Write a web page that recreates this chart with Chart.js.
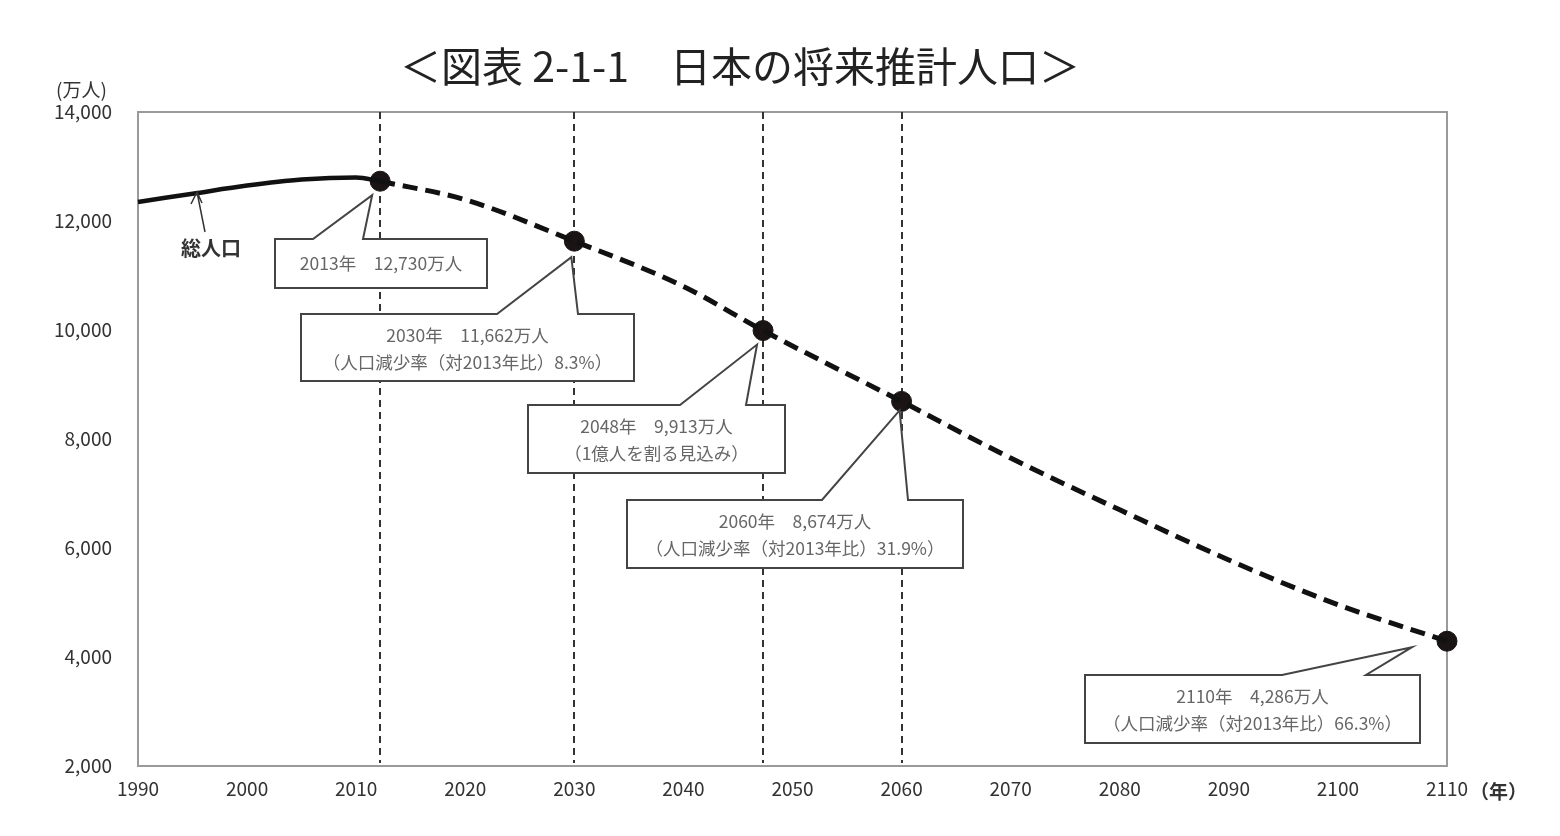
<!DOCTYPE html>
<html>
<head>
<meta charset="utf-8">
<script src="https://cdn.jsdelivr.net/npm/chart.js@4"></script>
<style>
  html, body { margin: 0; padding: 0; background: #fff; }
  #wrap { width: 1560px; height: 836px; position: relative; }
</style>
</head>
<body>
<div id="wrap"><canvas id="pop-chart"></canvas></div>
<script>
// historical total population (solid line)
const histYears = [1990, 1995, 2000, 2005, 2010, 2012.2];
const histValues = [12350, 12500, 12650, 12760, 12800, 12730];

// projection (dashed line)
const projYears = [2012.2, 2020, 2030, 2040, 2047.3, 2060, 2070, 2080, 2090, 2100, 2110];
const projValues = [12730, 12390, 11630, 10800, 9990, 8690, 7650, 6700, 5780, 4960, 4290];

// highlighted points
const markYears = [2012.2, 2030, 2047.3, 2060, 2110];
const markValues = [12730, 11630, 9990, 8690, 4290];

const yTicks = [2000, 4000, 6000, 8000, 10000, 12000, 14000];
const xTicks = [1990, 2000, 2010, 2020, 2030, 2040, 2050, 2060, 2070, 2080, 2090, 2100, 2110];

const calloutText = [
  ["2013年　12,730万人"],
  ["2030年　11,662万人", "（人口減少率（対2013年比）8.3%）"],
  ["2048年　9,913万人", "（1億人を割る見込み）"],
  ["2060年　8,674万人", "（人口減少率（対2013年比）31.9%）"],
  ["2110年　4,286万人", "（人口減少率（対2013年比）66.3%）"]
];

const FONT = '"Noto Sans CJK JP", "Noto Sans", sans-serif';

// box rect + tail base (pixels), tip goes toward the marker
const boxes = [
  { x: 275, y: 239, w: 212, h: 49, t1: 313, t2: 363, dx: -8, dy: 14 },
  { x: 301, y: 314, w: 333, h: 67, t1: 497, t2: 578, dx: -3, dy: 16 },
  { x: 528, y: 405, w: 257, h: 68, t1: 680, t2: 746, dx: -6, dy: 14 },
  { x: 627, y: 500, w: 336, h: 68, t1: 822, t2: 908, dx: -2, dy: 9 },
  { x: 1085, y: 675, w: 335, h: 68, t1: 1282, t2: 1366, dx: -35, dy: 6 }
];

const decor = {
  id: 'decor',
  beforeDatasetsDraw(chart) {
    const { ctx, chartArea: a, scales: { x } } = chart;
    ctx.save();
    // frame top/right
    ctx.strokeStyle = '#9a9a9a';
    ctx.lineWidth = 2;
    ctx.beginPath();
    ctx.moveTo(a.left, a.top); ctx.lineTo(a.right, a.top); ctx.lineTo(a.right, a.bottom);
    ctx.stroke();
    // vertical dashed guides
    ctx.strokeStyle = '#333';
    ctx.lineWidth = 2;
    ctx.setLineDash([7, 5]);
    markYears.slice(0, 4).forEach(yr => {
      const px = Math.round(x.getPixelForValue(yr));
      ctx.beginPath();
      ctx.moveTo(px, a.top);
      ctx.lineTo(px, a.bottom - 3);
      ctx.stroke();
    });
    ctx.setLineDash([]);
    ctx.restore();
  },
  afterDatasetsDraw(chart) {
    const { ctx, scales: { x, y } } = chart;
    ctx.save();
    // callouts
    boxes.forEach((b, i) => {
      const tx = x.getPixelForValue(markYears[i]) + b.dx;
      const ty = y.getPixelForValue(markValues[i]) + b.dy;
      ctx.fillStyle = '#fff';
      ctx.strokeStyle = '#444';
      ctx.lineWidth = 2;
      ctx.beginPath();
      ctx.moveTo(b.x, b.y);
      ctx.lineTo(b.t1, b.y);
      ctx.lineTo(tx, ty);
      ctx.lineTo(b.t2, b.y);
      ctx.lineTo(b.x + b.w, b.y);
      ctx.lineTo(b.x + b.w, b.y + b.h);
      ctx.lineTo(b.x, b.y + b.h);
      ctx.closePath();
      ctx.fill();
      ctx.stroke();
      ctx.fillStyle = '#666';
      ctx.font = '17.5px ' + FONT;
      ctx.textAlign = 'center';
      ctx.textBaseline = 'middle';
      const lines = calloutText[i];
      const cx = b.x + b.w / 2;
      if (lines.length === 1) {
        ctx.fillText(lines[0], cx, b.y + b.h / 2);
      } else {
        ctx.fillText(lines[0], cx, b.y + 21);
        ctx.fillText(lines[1], cx, b.y + 48);
      }
    });

    // 総人口 label with arrow
    ctx.fillStyle = '#333';
    ctx.font = 'bold 20px ' + FONT;
    ctx.textAlign = 'center';
    ctx.textBaseline = 'middle';
    ctx.fillText('総人口', 211, 248);
    ctx.strokeStyle = '#333';
    ctx.lineWidth = 1.5;
    ctx.beginPath();
    ctx.moveTo(205, 232); ctx.lineTo(197, 192);
    ctx.moveTo(191, 204); ctx.lineTo(197, 192); ctx.lineTo(202, 203);
    ctx.stroke();

    // title and units
    ctx.fillStyle = '#222';
    ctx.font = '41px ' + FONT;
    ctx.fillText('＜図表 2-1-1　日本の将来推計人口＞', 740, 66);
    ctx.fillStyle = '#333';
    ctx.font = '19px ' + FONT;
    ctx.textAlign = 'left';
    ctx.fillText('(万人)', 56, 90);
    ctx.font = 'bold 19px ' + FONT;
    ctx.fillText('（年）', 1470, 792);
    ctx.restore();
  }
};

new Chart(document.getElementById('pop-chart'), {
  type: 'line',
  data: {
    datasets: [
      {
        label: '総人口',
        data: histYears.map((yr, i) => ({ x: yr, y: histValues[i] })),
        borderColor: '#111',
        borderWidth: 4.5,
        pointRadius: 0,
        clip: false,
        cubicInterpolationMode: 'monotone'
      },
      {
        label: '推計',
        data: projYears.map((yr, i) => ({ x: yr, y: projValues[i] })),
        borderColor: '#111',
        borderWidth: 5,
        borderDash: [15, 8],
        pointRadius: 0,
        clip: false,
        cubicInterpolationMode: 'monotone'
      },
      {
        label: 'points',
        data: markYears.map((yr, i) => ({ x: yr, y: markValues[i] })),
        showLine: false,
        clip: false,
        pointRadius: 10,
        pointBackgroundColor: '#1a1414',
        pointBorderColor: '#1a1414'
      }
    ]
  },
  options: {
    responsive: true,
    maintainAspectRatio: false,
    animation: false,
    layout: { padding: { left: 0, right: 113, top: 112, bottom: 30 } },
    plugins: { legend: { display: false }, tooltip: { enabled: false } },
    scales: {
      x: {
        type: 'linear',
        min: 1990, max: 2110,
        afterBuildTicks: s => { s.ticks = xTicks.map(v => ({ value: v })); },
        afterFit: s => { s.height = 40; },
        grid: { display: false, drawTicks: true, tickLength: 5, color: '#9a9a9a' },
        border: { color: '#9a9a9a', width: 2 },
        ticks: { color: '#333', font: { family: FONT, size: 19 }, padding: 6, maxRotation: 0, callback: v => String(v) }
      },
      y: {
        min: 2000, max: 14000,
        afterBuildTicks: s => { s.ticks = yTicks.map(v => ({ value: v })); },
        afterFit: s => { s.width = 138; },
        grid: { display: false, drawTicks: true, tickLength: 6, color: '#9a9a9a' },
        border: { color: '#9a9a9a', width: 2 },
        ticks: { color: '#333', font: { family: FONT, size: 19 }, padding: 20, callback: v => v.toLocaleString('en-US') }
      }
    }
  },
  plugins: [decor]
});
</script>
</body>
</html>
